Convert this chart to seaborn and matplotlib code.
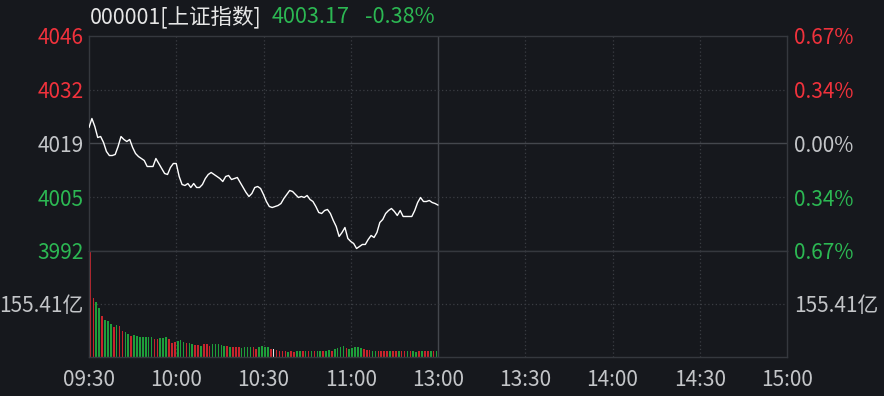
import numpy as np
import pandas as pd
import matplotlib
matplotlib.use("Agg")
import matplotlib.pyplot as plt
import seaborn as sns

# ---------------- data ----------------
title_code = "000001[上证指数]"
last_price_text = "4003.17"
change_text = "-0.38%"
pre_close = 4018.6
pct_levels = [0.67, 0.335, 0.0, -0.335, -0.67]
price_tick_labels = ["4046", "4032", "4019", "4005", "3992"]
pct_tick_labels = ["0.67%", "0.34%", "0.00%", "0.34%", "0.67%"]
time_ticks = [0, 30, 60, 90, 120, 150, 180, 210, 240]
time_labels = ["09:30", "10:00", "10:30", "11:00", "13:00", "13:30", "14:00", "14:30", "15:00"]
volume_max = 310.82
volume_tick = 155.41
volume_tick_label = "155.41亿"

prices = [
    4022.61, 4024.86, 4022.86, 4020.10, 4020.35, 4018.85, 4016.60, 4015.59, 4015.59, 4015.85,
    4017.85, 4020.35, 4019.60, 4019.10, 4019.60, 4017.60, 4016.10, 4015.34, 4014.84, 4014.34,
    4012.84, 4012.84, 4012.84, 4014.84, 4013.59, 4012.34, 4011.09, 4010.84, 4012.59, 4013.59,
    4013.59, 4010.34, 4008.33, 4008.08, 4008.58, 4007.58, 4008.58, 4007.58, 4007.58, 4008.33,
    4009.83, 4010.84, 4011.34, 4010.84, 4010.34, 4009.83, 4009.08, 4010.34, 4010.59, 4009.58,
    4009.83, 4010.09, 4008.83, 4007.58, 4006.33, 4005.33, 4006.08, 4007.58, 4007.83, 4007.33,
    4005.83, 4004.07, 4002.82, 4002.57, 4002.82, 4003.07, 4003.57, 4004.83, 4005.83, 4006.83,
    4006.58, 4005.83, 4005.08, 4005.33, 4005.08, 4005.58, 4004.58, 4004.07, 4002.82, 4001.32,
    4001.07, 4001.82, 4002.07, 4001.07, 3999.32, 3997.81, 3995.31, 3996.31, 3997.56, 3994.81,
    3994.06, 3993.56, 3992.30, 3992.80, 3993.31, 3993.31, 3994.56, 3995.56, 3995.06, 3996.31,
    3998.82, 3999.57, 4001.07, 4001.82, 4002.32, 4001.57, 4000.57, 4001.82, 4000.32, 4000.32,
    4000.32, 4000.32, 4001.82, 4003.82, 4005.08, 4004.07, 4004.07, 4004.33, 4003.82, 4003.57,
    4003.17,
]

# one bar per trading minute (09:30-11:30), in 亿
volumes = [
    310.8, 173.0, 162.2, 143.7, 120.2, 108.5, 105.6, 96.8, 88.0, 93.8,
    90.9, 77.1, 74.2, 67.4, 61.6, 64.5, 62.5, 59.5, 57.8, 59.5,
    59.5, 58.0, 51.9, 51.9, 54.8, 56.6, 57.8, 51.9, 40.2, 43.0,
    47.8, 49.0, 44.9, 40.2, 40.2, 38.1, 35.2, 35.2, 32.3, 38.1,
    38.1, 32.3, 38.1, 37.0, 37.0, 35.2, 32.3, 32.3, 30.2, 30.2,
    30.2, 28.4, 25.5, 28.4, 28.4, 30.2, 30.2, 22.6, 28.4, 32.3,
    30.2, 28.4, 24.0, 22.6, 20.5, 18.5, 18.5, 18.5, 15.5, 18.5,
    15.5, 18.5, 18.5, 18.5, 18.5, 18.5, 18.5, 18.5, 18.5, 18.5,
    18.5, 18.5, 20.5, 18.5, 22.6, 25.5, 28.4, 32.3, 25.5, 22.6,
    25.5, 30.2, 28.4, 25.5, 22.6, 20.5, 20.5, 18.5, 18.5, 18.5,
    18.5, 18.5, 18.5, 18.5, 18.5, 18.5, 18.5, 18.5, 18.5, 18.5,
    18.5, 18.5, 15.5, 18.5, 18.5, 18.5, 18.5, 18.5, 18.5, 18.5,
]

# r = up, g = down, w = unchanged
vol_dirs = list(
    "rrggrgggrg" "rrggrggggg" "ggrrgggrrr" "gggrggrrgr" "rrgggggrgr" "rrggggrrgg"
    "ggrw" "rrrrgrrggr" "grgrggrggr" "ggggrggggg" "rrrggrrrrg" "rrgrrgrggr" "grrgrg"
)

# ---------------- style ----------------
BG = "#16181d"
LINE = "#35383e"
DOT = "#3a3d43"
RED = "#f0323c"
GREEN = "#2cb853"
GRAY = "#c3c5c8"
BAR_RED = "#c8242c"
BAR_GREEN = "#1e9e3a"
BAR_WHITE = "#e8e8e8"
FS = 15

sns.set_theme(style="dark")
plt.rcParams["font.family"] = ["Noto Sans CJK SC", "DejaVu Sans"]
plt.rcParams["axes.unicode_minus"] = False

fig = plt.figure(figsize=(8.84, 3.96), dpi=100, facecolor=BG)
L, R = 89 / 884, 787 / 884
ax_p = fig.add_axes([L, 1 - 251 / 396, R - L, (251 - 36) / 396])
ax_v = fig.add_axes([L, 1 - 357 / 396, R - L, (357 - 251) / 396])

df_p = pd.DataFrame({"minute": np.arange(len(prices)), "price": prices})
n_v = len(volumes)
df_v = pd.DataFrame({"minute": np.arange(n_v) + 0.5, "volume": volumes,
                     "dir": vol_dirs[:n_v]})

for ax in (ax_p, ax_v):
    ax.set_facecolor(BG)
    ax.set_xlim(0, 240)
    for s in ax.spines.values():
        s.set_visible(True)
        s.set_color(LINE)
        s.set_linewidth(1.0)
    ax.tick_params(length=0)
    ax.grid(False)
    for t in time_ticks[1:-1]:
        if t == 120:
            ax.axvline(t, color="#44474d", lw=1.0, zorder=1)
        else:
            ax.axvline(t, color=DOT, lw=0.9, ls=(0, (1, 2)), zorder=1)

# price panel
price_levels = [pre_close * (1 + p / 100) for p in pct_levels]
ax_p.set_ylim(price_levels[-1], price_levels[0])
for lv, p in zip(price_levels, pct_levels):
    if p == 0:
        ax_p.axhline(lv, color="#44474d", lw=1.0, zorder=1)
    elif abs(p) < 0.5:
        ax_p.axhline(lv, color=DOT, lw=0.9, ls=(0, (1, 2)), zorder=1)
sns.lineplot(data=df_p, x="minute", y="price", ax=ax_p, color="white", lw=1.0, zorder=3)
ax_p.set_xlim(0, 240)
ax_p.set_xlabel("")
ax_p.set_ylabel("")
ax_p.set_xticks([])
ax_p.set_yticks(price_levels)
ax_p.set_yticklabels(price_tick_labels, fontsize=FS)
ax_p.tick_params(axis="y", pad=4)
lab_colors = [RED, RED, GRAY, GREEN, GREEN]
for tl, c in zip(ax_p.get_yticklabels(), lab_colors):
    tl.set_color(c)

ax_p2 = ax_p.twinx()
ax_p2.set_ylim(ax_p.get_ylim())
ax_p2.set_yticks(price_levels)
ax_p2.set_yticklabels(pct_tick_labels, fontsize=FS)
ax_p2.tick_params(length=0, pad=5)
ax_p2.grid(False)
for s in ax_p2.spines.values():
    s.set_visible(False)
for tl, c in zip(ax_p2.get_yticklabels(), lab_colors):
    tl.set_color(c)

# volume panel
ax_v.set_ylim(0, volume_max)
ax_v.axhline(volume_tick, color=DOT, lw=0.9, ls=(0, (1, 2)), zorder=1)
sns.barplot(data=df_v, x="minute", y="volume", hue="dir",
            palette={"r": BAR_RED, "g": BAR_GREEN, "w": BAR_WHITE},
            native_scale=True, dodge=False, width=0.55, legend=False,
            ax=ax_v, zorder=2, linewidth=0, saturation=1)
ax_v.set_xlim(0, 240)
ax_v.set_ylim(0, volume_max)
ax_v.set_xlabel("")
ax_v.set_ylabel("")
ax_v.set_yticks([volume_tick])
ax_v.set_yticklabels([volume_tick_label], fontsize=FS, color=GRAY)
ax_v.tick_params(axis="y", pad=4)
ax_v.set_xticks(time_ticks)
ax_v.set_xticklabels(time_labels, fontsize=FS, color=GRAY)
ax_v.tick_params(axis="x", pad=9)

ax_v2 = ax_v.twinx()
ax_v2.set_ylim(0, volume_max)
ax_v2.set_yticks([volume_tick])
ax_v2.set_yticklabels([volume_tick_label], fontsize=FS, color=GRAY)
ax_v2.tick_params(length=0, pad=5)
ax_v2.grid(False)
for s in ax_v2.spines.values():
    s.set_visible(False)

# header
ty = 1 - 17 / 396
fig.text(90 / 884, ty, title_code, color="#e6e6e6", fontsize=15.5, va="center", ha="left")
fig.text(272 / 884, ty, last_price_text, color=GREEN, fontsize=15.6, va="center", ha="left")
fig.text(365 / 884, ty, change_text, color=GREEN, fontsize=15.6, va="center", ha="left")

fig.savefig("out.png", dpi=100, facecolor=BG)
